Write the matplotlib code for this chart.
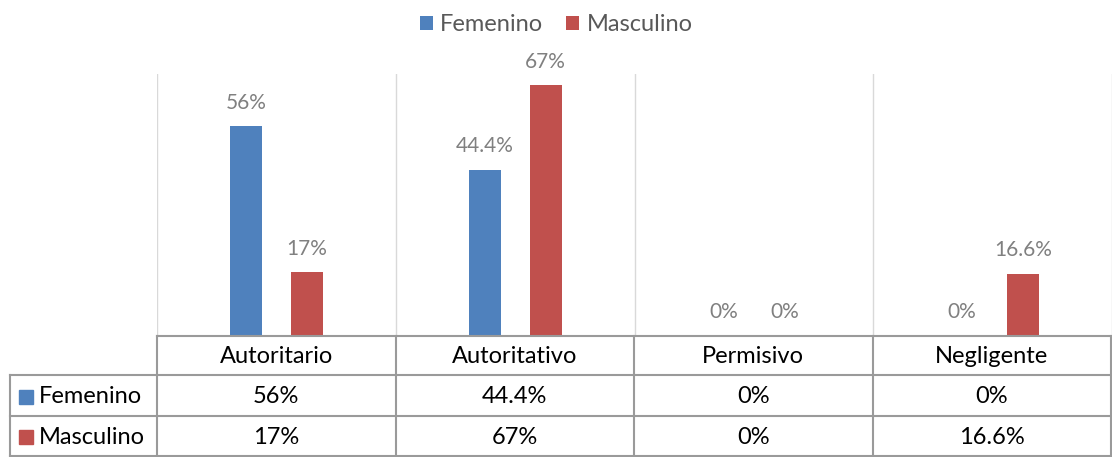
import numpy as np
import matplotlib.pyplot as plt
from matplotlib.lines import Line2D
from matplotlib.patches import Rectangle

categories = ["Autoritario", "Autoritativo", "Permisivo", "Negligente"]
series_names = ["Femenino", "Masculino"]
femenino = [56, 44.4, 0, 0]
masculino = [17, 67, 0, 16.6]
femenino_labels = ["56%", "44.4%", "0%", "0%"]
masculino_labels = ["17%", "67%", "0%", "16.6%"]

colors = ["#4F81BD", "#C0504D"]
W, H = 1112, 457
plt.rcParams['font.family'] = ['Lato', 'DejaVu Sans']

fig = plt.figure(figsize=(W / 100, H / 100), dpi=100)

# pixel layout
x0, x1 = 157, 1112
y_base, y_top = 336, 74
ax = fig.add_axes([x0 / W, (H - y_base) / H, (x1 - x0) / W, (y_base - y_top) / H])

n = len(categories)
x = np.arange(n) + 0.5
bw, off = 0.134, 0.128
values = [femenino, masculino]
labels = [femenino_labels, masculino_labels]
bars = []
for i, (vals, labs) in enumerate(zip(values, labels)):
    pos = x + (-off if i == 0 else off)
    b = ax.bar(pos, vals, width=bw, color=colors[i], label=series_names[i], zorder=3)
    bars.append(b)
    for p, v, lab in zip(pos, vals, labs):
        ax.annotate(lab, (p, v), xytext=(0, 17), textcoords="offset points",
                    ha="center", va="center", fontsize=15, color="#808080")

ax.set_xlim(0, n)
ax.set_ylim(0, 70)
for k in range(n + 1):
    ax.axvline(k, color="#d9d9d9", lw=1, zorder=1)
ax.axis("off")

fig.legend(handles=bars, labels=series_names, loc="upper center", ncol=2,
           bbox_to_anchor=(0.5, 1.015), frameon=False, fontsize=17,
           handlelength=0.55, handleheight=0.55, handletextpad=0.3,
           columnspacing=1.0, labelcolor="#595959")

# data table overlay in pixel coordinates
tb = fig.add_axes([0, 0, 1, 1])
tb.set_xlim(0, W)
tb.set_ylim(H, 0)
tb.axis("off")
tb.patch.set_alpha(0)

grid = "#9a9a9a"
col_edges = np.linspace(x0, x1 - 1, n + 1)
row_y = [y_base, 375, 416, H - 1]
left = 10
tb.add_line(Line2D([x0, x1], [row_y[0]] * 2, color=grid, lw=1.5))
for yy in row_y[1:]:
    tb.add_line(Line2D([left, x1], [yy] * 2, color=grid, lw=1.5))
tb.add_line(Line2D([left, left], [row_y[1], row_y[3]], color=grid, lw=1.5))
for xe in col_edges:
    tb.add_line(Line2D([xe, xe], [row_y[0], row_y[3]], color=grid, lw=1.5))

centers = (col_edges[:-1] + col_edges[1:]) / 2
fs = 17
for c, cat in zip(centers, categories):
    tb.text(c, (row_y[0] + row_y[1]) / 2 + 1, cat, ha="center", va="center",
            fontsize=fs, color="black")
for r, (name, labs) in enumerate(zip(series_names, labels)):
    yc = (row_y[r + 1] + row_y[r + 2]) / 2 + 1
    tb.add_patch(Rectangle((19, yc - 7), 14, 14, color=colors[r]))
    tb.text(39, yc, name, ha="left", va="center", fontsize=fs, color="black")
    for c, lab in zip(centers, labs):
        tb.text(c, yc, lab, ha="center", va="center", fontsize=fs, color="black")

fig.savefig("out.png", dpi=100)
